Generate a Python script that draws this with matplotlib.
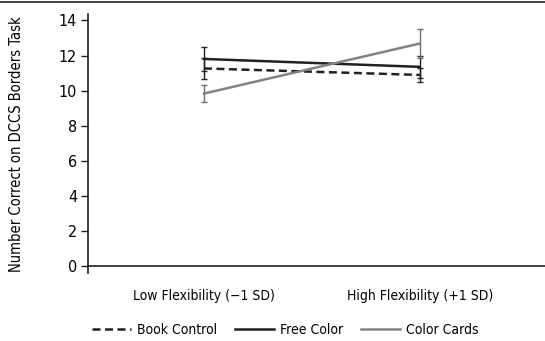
import numpy as np
import matplotlib.pyplot as plt
from matplotlib.lines import Line2D

plt.rcParams['font.family'] = ['DejaVu Sans']
plt.rcParams['font.stretch'] = 'condensed'

# data
categories = ["Low Flexibility (\u22121 SD)", "High Flexibility (+1 SD)"]
book_control = [11.27, 10.90]
book_err = [0.62, 0.41]
free_color = [11.81, 11.36]
free_err = [0.69, 0.63]
color_cards = [9.84, 12.69]
cards_err = [0.50, 0.84]
yticks = [0, 2, 4, 6, 8, 10, 12, 14]

black = "#231f20"
gray = "#808285"

fig = plt.figure(figsize=(5.45, 3.41), dpi=100)
ax = fig.add_axes([0.1615, 0.198, 0.8385, 0.76])

x = np.arange(len(categories))
ax.errorbar(x, book_control, yerr=book_err, color=black, lw=1.8, ls=(0, (3.2, 1.8)),
            capsize=2.4, elinewidth=1.0, capthick=1.0, label="Book Control")
ax.errorbar(x, free_color, yerr=free_err, color=black, lw=1.8,
            capsize=2.4, elinewidth=1.0, capthick=1.0, label="Free Color")
ax.errorbar(x, color_cards, yerr=cards_err, color=gray, lw=1.8,
            capsize=2.4, elinewidth=1.0, capthick=1.0, label="Color Cards",
            ecolor="#6d6e71")

ax.set_xlim(-0.537, 1.58)
ax.set_ylim(-0.4, 14.35)
ax.set_yticks(yticks)
ax.set_xticks(x)
ax.set_xticklabels(categories)
ax.tick_params(axis='x', length=0, pad=16, labelsize=10)
ax.tick_params(axis='y', length=5, width=1, labelsize=11.5, color=black, pad=3)
ax.spines['top'].set_visible(False)
ax.spines['right'].set_visible(False)
ax.spines['bottom'].set_position(('data', 0))
for s in ('left', 'bottom'):
    ax.spines[s].set_linewidth(1.2)
    ax.spines[s].set_color(black)
ax.set_ylabel("Number Correct on DCCS Borders Task", fontsize=10.5, labelpad=25)

handles = [Line2D([], [], color=black, lw=1.8, ls=(0, (3.2, 1.8))),
           Line2D([], [], color=black, lw=1.8),
           Line2D([], [], color=gray, lw=1.8)]
fig.legend(handles, ["Book Control", "Free Color", "Color Cards"],
           loc='center', bbox_to_anchor=(0.524, 0.032), ncol=3, frameon=False,
           fontsize=10, handlelength=2.8, handletextpad=0.43, columnspacing=1.3)

fig.add_artist(Line2D([0, 1], [0.994, 0.994], color=black, lw=1.2,
                      transform=fig.transFigure))

fig.savefig("out.png", dpi=100)
